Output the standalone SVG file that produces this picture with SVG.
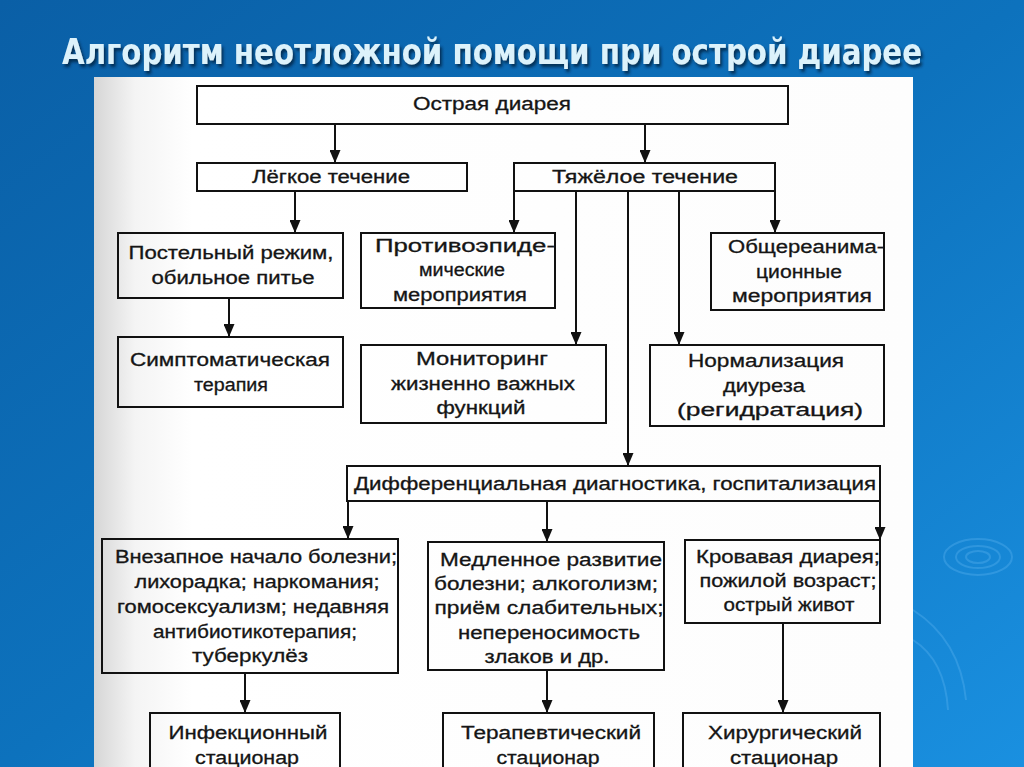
<svg xmlns="http://www.w3.org/2000/svg" width="1024" height="767" viewBox="0 0 1024 767">
<defs>
<linearGradient id="bg" x1="0" y1="0" x2="1" y2="1">
<stop offset="0" stop-color="#0a5fa6"/>
<stop offset="0.5" stop-color="#0d72bd"/>
<stop offset="1" stop-color="#1a90e0"/>
</linearGradient>
<linearGradient id="paper" x1="0" y1="0" x2="1" y2="0">
<stop offset="0" stop-color="#d6d6d6"/>
<stop offset="0.05" stop-color="#f4f4f4"/>
<stop offset="0.12" stop-color="#ffffff"/>
<stop offset="1" stop-color="#fdfdfd"/>
</linearGradient>
<marker id="ah" viewBox="0 0 13 11" refX="13" refY="5.5" markerWidth="13" markerHeight="11" markerUnits="userSpaceOnUse" orient="auto">
<path d="M0,0 L13,5.5 L0,11 z" fill="#111"/>
</marker>
<filter id="sh" filterUnits="userSpaceOnUse" x="0" y="0" width="1024" height="100">
<feDropShadow dx="2" dy="3" stdDeviation="1.5" flood-color="#002040" flood-opacity="0.8"/>
</filter>
</defs>
<style>
.box{fill:none;stroke:#111;stroke-width:2}
.t{font-family:"Liberation Sans",Arial,sans-serif;font-size:18px;fill:#151515;stroke:#151515;stroke-width:0.3;text-anchor:middle}
.c{fill:none;stroke:#111;stroke-width:2;marker-end:url(#ah)}
.rip{fill:none;stroke:#5fb4f0;stroke-opacity:0.35;stroke-width:2}
</style>
<rect x="0" y="0" width="1024" height="767" fill="url(#bg)"/>
<g id="ripples">
<ellipse class="rip" cx="978" cy="557" rx="12" ry="6"/>
<ellipse class="rip" cx="978" cy="557" rx="22" ry="11"/>
<ellipse class="rip" cx="978" cy="557" rx="34" ry="18"/>
<path class="rip" d="M913,610 Q960,640 966,700" stroke-width="4"/>
<path class="rip" d="M913,640 Q945,660 948,710" stroke-width="3"/>
</g>
<rect x="94" y="77" width="819" height="690" fill="url(#paper)"/>
<text x="492" y="64" font-family="'Liberation Sans Narrow','DejaVu Sans Condensed','Liberation Sans',sans-serif" font-weight="bold" font-size="35" fill="#dcf2fb" text-anchor="middle" textLength="860" lengthAdjust="spacingAndGlyphs" filter="url(#sh)">Алгоритм неотложной помощи при острой диарее</text>
<g id="connectors">
<path class="c" d="M335,124 V163"/>
<path class="c" d="M645,124 V163"/>
<path class="c" d="M295,191 V233"/>
<path class="c" d="M229,298 V337"/>
<path class="c" d="M514,191 V233"/>
<path class="c" d="M576,191 V345"/>
<path class="c" d="M628,191 V466"/>
<path class="c" d="M679,191 V345"/>
<path class="c" d="M775,191 V233"/>
<path class="c" d="M348,501 V539"/>
<path class="c" d="M547,501 V542"/>
<path class="c" d="M880,501 V540"/>
<path class="c" d="M245,673 V713"/>
<path class="c" d="M547,670 V713"/>
<path class="c" d="M783,623 V713"/>
</g>
<g id="acute">
<rect class="box" x="197" y="86" width="591" height="38"/>
<text class="t" x="492" y="110" font-size="16" textLength="158" lengthAdjust="spacingAndGlyphs">Острая диарея</text>
</g>
<g id="mild">
<rect class="box" x="197" y="163" width="270" height="28"/>
<text class="t" x="331" y="183" font-size="17" textLength="158" lengthAdjust="spacingAndGlyphs">Лёгкое течение</text>
</g>
<g id="severe">
<rect class="box" x="514" y="163" width="261" height="28"/>
<text class="t" x="645" y="183" font-size="17" textLength="186" lengthAdjust="spacingAndGlyphs">Тяжёлое течение</text>
</g>
<g id="bedrest">
<rect class="box" x="118" y="233" width="225" height="65"/>
<text class="t" x="231" y="259" textLength="205" lengthAdjust="spacingAndGlyphs">Постельный режим,</text>
<text class="t" x="233" y="284" textLength="163" lengthAdjust="spacingAndGlyphs">обильное питье</text>
</g>
<g id="symptomatic">
<rect class="box" x="118" y="337" width="225" height="70"/>
<text class="t" x="230" y="366" textLength="200" lengthAdjust="spacingAndGlyphs">Симптоматическая</text>
<text class="t" x="231" y="391" textLength="74" lengthAdjust="spacingAndGlyphs">терапия</text>
</g>
<g id="antiepidemic">
<rect class="box" x="361" y="233" width="194" height="75"/>
<text class="t" x="465" y="252" textLength="180" lengthAdjust="spacingAndGlyphs">Противоэпиде-</text>
<text class="t" x="462" y="276" textLength="86" lengthAdjust="spacingAndGlyphs">мические</text>
<text class="t" x="460" y="301" textLength="134" lengthAdjust="spacingAndGlyphs">мероприятия</text>
</g>
<g id="monitoring">
<rect class="box" x="361" y="345" width="245" height="78"/>
<text class="t" x="482" y="365" textLength="132" lengthAdjust="spacingAndGlyphs">Мониторинг</text>
<text class="t" x="483" y="390" textLength="184" lengthAdjust="spacingAndGlyphs">жизненно важных</text>
<text class="t" x="481" y="414" textLength="89" lengthAdjust="spacingAndGlyphs">функций</text>
</g>
<g id="reanimation">
<rect class="box" x="711" y="233" width="173" height="77"/>
<text class="t" x="806" y="253" textLength="156" lengthAdjust="spacingAndGlyphs">Общереанима-</text>
<text class="t" x="799" y="278" textLength="86" lengthAdjust="spacingAndGlyphs">ционные</text>
<text class="t" x="802" y="302" textLength="140" lengthAdjust="spacingAndGlyphs">мероприятия</text>
</g>
<g id="normalization">
<rect class="box" x="650" y="345" width="234" height="81"/>
<text class="t" x="766" y="367" textLength="156" lengthAdjust="spacingAndGlyphs">Нормализация</text>
<text class="t" x="764" y="392" textLength="82" lengthAdjust="spacingAndGlyphs">диуреза</text>
<text class="t" x="770" y="416" textLength="186" lengthAdjust="spacingAndGlyphs">(регидратация)</text>
</g>
<g id="differential">
<rect class="box" x="347" y="466" width="533" height="35"/>
<text class="t" x="615" y="490" textLength="522" lengthAdjust="spacingAndGlyphs">Дифференциальная диагностика, госпитализация</text>
</g>
<g id="sudden">
<rect class="box" x="102" y="539" width="296" height="134"/>
<text class="t" x="256" y="563" textLength="282" lengthAdjust="spacingAndGlyphs">Внезапное начало болезни;</text>
<text class="t" x="257" y="588" textLength="245" lengthAdjust="spacingAndGlyphs">лихорадка; наркомания;</text>
<text class="t" x="253" y="613" textLength="272" lengthAdjust="spacingAndGlyphs">гомосексуализм; недавняя</text>
<text class="t" x="255" y="638" textLength="204" lengthAdjust="spacingAndGlyphs">антибиотикотерапия;</text>
<text class="t" x="250" y="662" textLength="116" lengthAdjust="spacingAndGlyphs">туберкулёз</text>
</g>
<g id="slow">
<rect class="box" x="428" y="542" width="236" height="128"/>
<text class="t" x="551" y="566" textLength="222" lengthAdjust="spacingAndGlyphs">Медленное развитие</text>
<text class="t" x="546" y="590" textLength="224" lengthAdjust="spacingAndGlyphs">болезни; алкоголизм;</text>
<text class="t" x="549" y="614" textLength="229" lengthAdjust="spacingAndGlyphs">приём слабительных;</text>
<text class="t" x="549" y="639" textLength="182" lengthAdjust="spacingAndGlyphs">непереносимость</text>
<text class="t" x="547" y="663" textLength="125" lengthAdjust="spacingAndGlyphs">злаков и др.</text>
</g>
<g id="bloody">
<rect class="box" x="685" y="540" width="195" height="83"/>
<text class="t" x="788" y="563" textLength="184" lengthAdjust="spacingAndGlyphs">Кровавая диарея;</text>
<text class="t" x="788" y="587" textLength="177" lengthAdjust="spacingAndGlyphs">пожилой возраст;</text>
<text class="t" x="789" y="611" textLength="131" lengthAdjust="spacingAndGlyphs">острый живот</text>
</g>
<g id="infectious">
<rect class="box" x="150" y="713" width="190" height="70"/>
<text class="t" x="248" y="739" textLength="159" lengthAdjust="spacingAndGlyphs">Инфекционный</text>
<text class="t" x="247" y="764" textLength="104" lengthAdjust="spacingAndGlyphs">стационар</text>
</g>
<g id="therapeutic">
<rect class="box" x="443" y="713" width="211" height="70"/>
<text class="t" x="551" y="739" textLength="180" lengthAdjust="spacingAndGlyphs">Терапевтический</text>
<text class="t" x="548" y="764" textLength="103" lengthAdjust="spacingAndGlyphs">стационар</text>
</g>
<g id="surgical">
<rect class="box" x="683" y="713" width="197" height="70"/>
<text class="t" x="785" y="739" textLength="154" lengthAdjust="spacingAndGlyphs">Хирургический</text>
<text class="t" x="784" y="764" textLength="108" lengthAdjust="spacingAndGlyphs">стационар</text>
</g>
</svg>
